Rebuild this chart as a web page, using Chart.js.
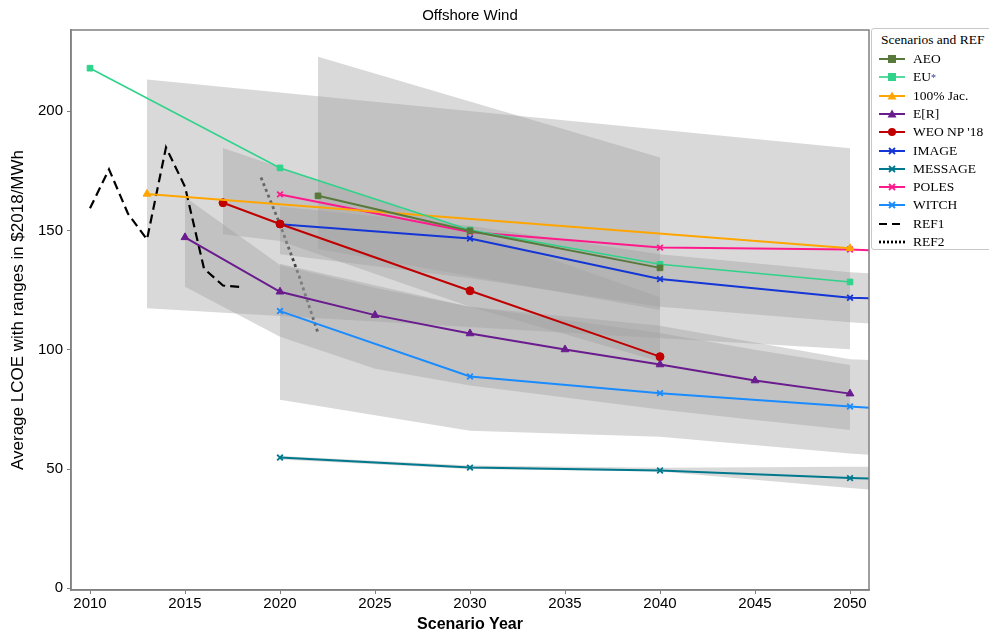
<!DOCTYPE html>
<html><head><meta charset="utf-8">
<script src="https://cdn.jsdelivr.net/npm/chart.js@4.4.1/dist/chart.umd.min.js"></script>
<style>
html,body{margin:0;padding:0;background:#fff;}
#wrap{position:relative;width:989px;height:634px;}
#legend{position:absolute;left:871px;top:28px;width:130px;height:222px;border:1px solid #c8c8c8;border-radius:3px;background:#fff;font-family:"Liberation Serif","DejaVu Serif",serif;font-size:13.5px;color:#000;box-sizing:border-box;}
#legend .ttl{position:absolute;left:9px;top:3px;white-space:nowrap;}
#legend .row{position:absolute;left:6px;height:18px;display:flex;align-items:center;white-space:nowrap;}
#legend canvas{margin-right:7px;}
sup{font-size:10px;color:#2a3b8f;vertical-align:6px;}
</style></head><body>
<div id="wrap"><canvas id="c" width="989" height="634"></canvas><div id="legend"></div></div>
<script>
// ---- data ----
const xTicks = [2010,2015,2020,2025,2030,2035,2040,2045,2050];
const yTicks = [0,50,100,150,200];
const aeoYears = [2022,2030,2040];
const aeoVals = [164.5,149.8,134.3];
const euYears = [2010,2020,2030,2040,2050];
const euVals = [218,176.2,150.2,135.8,128.4];
const jacYears = [2013,2050];
const jacVals = [165.3,142.5];
const erYears = [2015,2020,2025,2030,2035,2040,2045,2050];
const erVals = [147.1,124.3,114.5,106.8,100.1,93.8,87.1,81.6];
const weoYears = [2017,2020,2030,2040];
const weoVals = [161.6,152.7,124.7,97.1];
const imageYears = [2020,2030,2040,2050,2051];
const imageVals = [152.6,146.6,129.6,121.8,121.6];
const messageYears = [2020,2030,2040,2050,2051];
const messageVals = [54.8,50.6,49.4,46.2,46.0];
const polesYears = [2020,2030,2040,2050,2051];
const polesVals = [165.1,149.3,142.8,142.0,141.7];
const witchYears = [2020,2030,2040,2050,2051];
const witchVals = [116.2,88.8,81.8,76.2,75.7];
const ref1Years = [2010,2011,2012,2013,2014,2015,2016,2017,2018];
const ref1Vals = [159.3,175.6,157.0,146.2,184.8,168.3,134.0,126.9,126.2];
const ref2Years = [2019,2020,2021,2022];
const ref2Vals = [172.2,152.5,131.0,107.0];
// ranges (shaded bands): years, low, high
const jacRangeYears = [2013,2050];
const jacRangeLow = [117.4,100.2];
const jacRangeHigh = [213.3,184.4];
const aeoRangeYears = [2022,2040];
const aeoRangeLow = [142.2,116.6];
const aeoRangeHigh = [222.8,180.6];
const weoRangeYears = [2017,2020,2030,2040];
const weoRangeLow = [148.4,145.6,118.0,95.0];
const weoRangeHigh = [184.5,176.5,150.0,122.0];
const erRangeYears = [2015,2020,2025,2030,2040,2045,2050];
const erRangeLow = [126.4,105.4,92.0,85.0,75.0,70.5,66.4];
const erRangeHigh = [164.0,135.5,126.0,118.0,107.0,100.0,93.6];
const imageRangeYears = [2020,2030,2040,2050,2051];
const imageRangeLow = [140.0,130.0,118.0,111.5,111.0];
const imageRangeHigh = [160.0,152.0,140.0,132.5,132.0];
const witchRangeYears = [2020,2030,2040,2050,2051];
const witchRangeLow = [79.0,66.0,63.5,56.5,56.0];
const witchRangeHigh = [136.0,118.0,110.0,96.0,95.7];
const messageRangeYears = [2020,2030,2040,2050,2051];
const messageRangeLow = [54.0,50.0,49.0,42.0,41.4];
const messageRangeHigh = [55.5,51.5,50.5,51.0,51.0];

// ---- build ----
const pts = (xs, ys) => xs.map((x, i) => ({x: x, y: ys[i]}));
const datasets = [];
const bandFill = 'rgba(160,160,160,0.4)';
function band(xs, lo, hi) {
  datasets.push({label: '_lo', data: pts(xs, lo), borderWidth: 0, pointRadius: 0, fill: false, borderColor: 'rgba(0,0,0,0)', order: 10});
  datasets.push({label: '_hi', data: pts(xs, hi), borderWidth: 0, pointRadius: 0, fill: '-1', backgroundColor: bandFill, borderColor: 'rgba(0,0,0,0)', order: 10});
}
band(jacRangeYears, jacRangeLow, jacRangeHigh);
band(aeoRangeYears, aeoRangeLow, aeoRangeHigh);
band(weoRangeYears, weoRangeLow, weoRangeHigh);
band(erRangeYears, erRangeLow, erRangeHigh);
band(imageRangeYears, imageRangeLow, imageRangeHigh);
band(witchRangeYears, witchRangeLow, witchRangeHigh);
band(messageRangeYears, messageRangeLow, messageRangeHigh);

const series = [
  {name: 'AEO', xs: aeoYears, ys: aeoVals, color: '#58793a', style: 'rect', r: 4, w: 2},
  {name: 'EU', sup: '*', xs: euYears, ys: euVals, color: '#2fd38a', style: 'rect', r: 4, w: 1.6},
  {name: '100% Jac.', xs: jacYears, ys: jacVals, color: '#ffa500', style: 'triangle', r: 4.5, w: 2},
  {name: 'E[R]', xs: erYears, ys: erVals, color: '#6a1b8e', style: 'triangle', r: 4.5, w: 2},
  {name: "WEO NP '18", xs: weoYears, ys: weoVals, color: '#c00000', style: 'circle', r: 4, w: 2},
  {name: 'IMAGE', xs: imageYears, ys: imageVals, color: '#1436d6', style: 'cross', r: 4, w: 2},
  {name: 'MESSAGE', xs: messageYears, ys: messageVals, color: '#00798e', style: 'cross', r: 4, w: 2},
  {name: 'POLES', xs: polesYears, ys: polesVals, color: '#ff1a8c', style: 'cross', r: 4, w: 2},
  {name: 'WITCH', xs: witchYears, ys: witchVals, color: '#1a8cff', style: 'cross', r: 4, w: 2},
  {name: 'REF1', xs: ref1Years, ys: ref1Vals, color: '#000', style: false, r: 0, w: 2.2, dash: [9,5]},
  {name: 'REF2', xs: ref2Years, ys: ref2Vals, color: '#000', style: false, r: 0, w: 2.8, dash: [3,3.2]}
];
series.forEach((s, i) => {
  datasets.push({
    label: s.name, data: pts(s.xs, s.ys), borderColor: s.color, backgroundColor: s.color,
    borderWidth: s.w, borderDash: s.dash || [], pointStyle: s.style || 'circle',
    pointRadius: c => (s.r && c.raw && c.raw.x <= 2050) ? s.r : 0,
    pointBorderWidth: s.style === 'cross' ? 1.8 : 1, pointBorderColor: s.color, pointBackgroundColor: s.color,
    pointRotation: s.style === 'cross' ? 45 : 0,
    fill: false, tension: 0, order: i
  });
});

const frame = {
  id: 'frame',
  afterDatasetsDraw(chart) {
    const a = chart.chartArea, ctx = chart.ctx;
    ctx.save(); ctx.strokeStyle = '#808080'; ctx.lineWidth = 1.5;
    ctx.strokeRect(a.left, a.top, a.right - a.left, a.bottom - a.top);
    ctx.restore();
  }
};

new Chart(document.getElementById('c'), {
  type: 'line',
  data: {datasets},
  options: {
    responsive: false, animation: false, devicePixelRatio: 1,
    layout: {padding: {left: 0, right: 120, top: 0, bottom: 0}},
    plugins: {
      legend: {display: false}, tooltip: {enabled: false},
      title: {display: true, text: 'Offshore Wind', fullSize: false, color: '#000',
        font: {family: 'Liberation Sans', size: 15, weight: 'normal'}, padding: {top: 7, bottom: 5}}
    },
    scales: {
      x: {type: 'linear', min: 2009, max: 2051,
        afterBuildTicks: s => { s.ticks = xTicks.map(v => ({value: v})); },
        afterFit: s => { s.height = 44; },
        ticks: {color: '#000', font: {family: 'Liberation Sans', size: 15}, padding: 1, callback: v => String(v), maxRotation: 0},
        grid: {display: true, drawOnChartArea: false, drawTicks: true, tickLength: 4, color: '#808080'},
        border: {display: true, color: '#808080', width: 1.5},
        title: {display: true, text: 'Scenario Year', color: '#000', font: {family: 'Liberation Sans', size: 16, weight: 'bold'}, padding: {top: 4, bottom: 0}}
      },
      y: {type: 'linear', min: -0.7, max: 234,
        afterBuildTicks: s => { s.ticks = yTicks.map(v => ({value: v})); },
        afterFit: s => { s.width = 71; },
        ticks: {color: '#000', font: {family: 'Liberation Sans', size: 15}, padding: 4},
        grid: {display: true, drawOnChartArea: false, drawTicks: true, tickLength: 4, color: '#808080'},
        border: {display: true, color: '#808080', width: 1.5},
        title: {display: true, text: 'Average LCOE with ranges in $2018/MWh', color: '#000', font: {family: 'Liberation Sans', size: 17}, padding: {top: 8, bottom: 0}}
      }
    }
  },
  plugins: [frame]
});

// ---- legend (HTML, icons drawn with canvas) ----
const lg = document.getElementById('legend');
const t = document.createElement('div'); t.className = 'ttl'; t.textContent = 'Scenarios and REF'; lg.appendChild(t);
series.forEach((s, i) => {
  const row = document.createElement('div'); row.className = 'row'; row.style.top = (21 + i * 18.3) + 'px';
  const cv = document.createElement('canvas'); cv.width = 28; cv.height = 12;
  const g = cv.getContext('2d');
  g.strokeStyle = s.color; g.fillStyle = s.color; g.lineWidth = s.w;
  if (s.dash) g.setLineDash(s.name === 'REF1' ? [8,5] : [2,2]);
  g.beginPath(); g.moveTo(1, 6); g.lineTo(27, 6); g.stroke(); g.setLineDash([]);
  if (s.style === 'rect') g.fillRect(10, 2, 8, 8);
  else if (s.style === 'triangle') { g.beginPath(); g.moveTo(14, 1.5); g.lineTo(18.5, 9.5); g.lineTo(9.5, 9.5); g.closePath(); g.fill(); }
  else if (s.style === 'circle') { g.beginPath(); g.arc(14, 6, 4, 0, Math.PI * 2); g.fill(); }
  else if (s.style === 'cross') { g.lineWidth = 1.8; g.beginPath(); g.moveTo(11, 3); g.lineTo(17, 9); g.moveTo(17, 3); g.lineTo(11, 9); g.stroke(); }
  row.appendChild(cv);
  const sp = document.createElement('span'); sp.textContent = s.name; row.appendChild(sp);
  if (s.sup) { const su = document.createElement('sup'); su.textContent = s.sup; row.appendChild(su); }
  lg.appendChild(row);
});
</script>
</body></html>
